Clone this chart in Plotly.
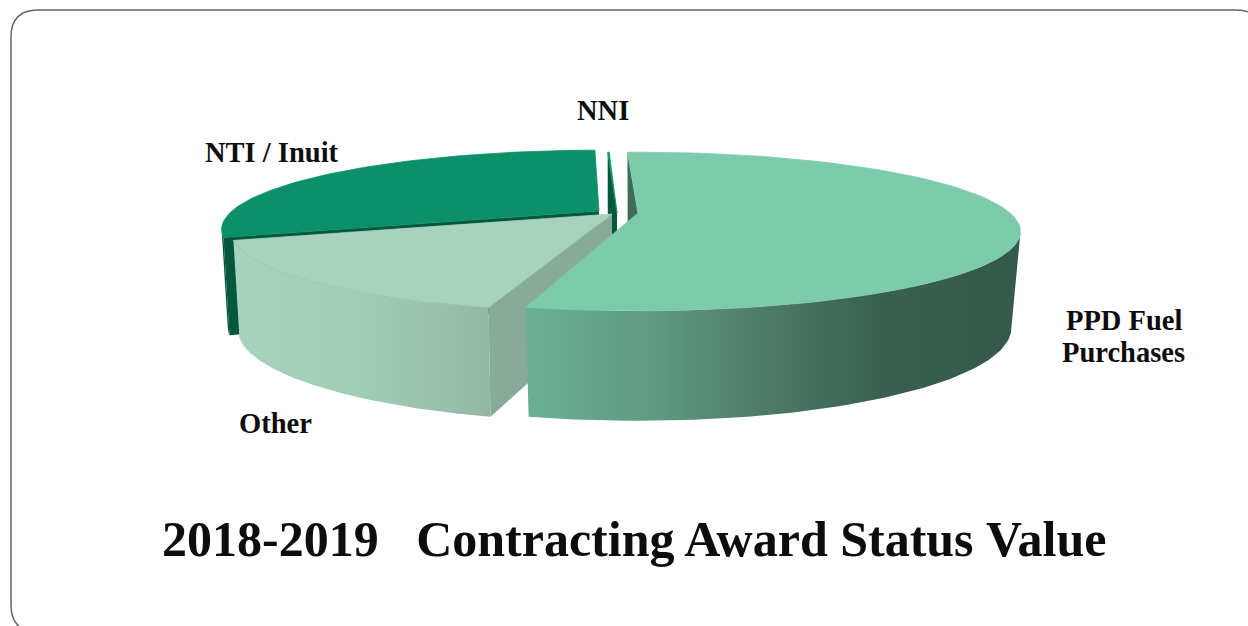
import math
import plotly.graph_objects as go

labels = ["PPD Fuel Purchases", "Other", "NTI / Inuit", "NNI"]
values = [54.3, 15.56, 30.06, 0.08]
title_text = "2018-2019\u00a0\u00a0\u00a0Contracting Award Status\u00a0Value"
label_lines = ["PPD Fuel", "Purchases", "Other", "NTI / Inuit", "NNI"]

START = -2.0
ROT = [0, 1.5, 1.5, 0.5]
VX = [638, 612, 599, 617]
VY = [213, 214, 211, 213]
RAD = [372, 370, 367, 368]
KX = [0.976, 0.984, 0.984, 0.984]
TOP = ["#7ccbab", "#a7d3bd", "#0b906a", "#0b906a"]
FACE = ["#3f6b59", "#87ab98", "#05573d", "#05573d"]
WALL = [
    [[0, "#6bb095"], [0.24, "#5f9c82"], [0.45, "#517f6b"], [0.72, "#385f4f"], [1, "#35594b"]],
    [[0, "#a7d3bd"], [0.5, "#a0cdb6"], [1, "#93b8a4"]],
    [[0, "#05573d"], [1, "#05573d"]],
    [[0, "#05573d"], [1, "#05573d"]],
]
LABEL_POS = [(1123.5, 320), (1123, 352), (275, 423), (271.5, 152), (603, 110)]

P = 0.233
B = 75
KY, D = 1.17, 93.4
SIL_A = math.degrees(math.acos(-P))
SIL_B = 360 - SIL_A


def pt(i, th, bottom=False):
    t = math.radians(th)
    s, c = math.sin(t), math.cos(t)
    w = 1 + P * c
    dx, dy = RAD[i] * s / w, -B * c / w
    if bottom:
        return VX[i] + KX[i] * dx, VY[i] + D + KY * dy
    return VX[i] + dx, VY[i] + dy


def arc(i, a, b, bottom=False, n=80):
    return [pt(i, a + (b - a) * k / n, bottom) for k in range(n + 1)]


def poly(points, color=None, gradient=None, edge=0):
    xs = [p[0] for p in points] + [points[0][0]]
    ys = [p[1] for p in points] + [points[0][1]]
    kw = dict(x=xs, y=ys, mode="lines", fill="toself",
              line=dict(width=edge, color=color if color else "rgba(0,0,0,0)"),
              hoverinfo="skip", showlegend=False)
    if gradient:
        kw["fillgradient"] = dict(type="horizontal", colorscale=gradient)
    else:
        kw["fillcolor"] = color
    return go.Scatter(**kw)


total = sum(values)
spans = []
cur = START
for i, v in enumerate(values):
    end = cur + v / total * 360
    spans.append((cur + ROT[i], end + ROT[i]))
    cur = end

fig = go.Figure()
for i in [3, 2, 1, 0]:
    a, b = spans[i]
    wa, wb = max(a, SIL_A), min(b, SIL_B)
    if wb > wa:
        fig.add_trace(poly(arc(i, wa, wb) + arc(i, wb, wa, True), gradient=WALL[i]))
    ctr_top = (VX[i], VY[i])
    ctr_bot = (VX[i], VY[i] + D)
    fig.add_trace(poly([pt(i, a), ctr_top, ctr_bot, pt(i, a, True)], color=FACE[i]))
    fig.add_trace(poly([ctr_top] + arc(i, a, b), color=TOP[i], edge=0.8))

W, H = 1248, 626
x0, y0, x1, y1, r = 11, 10, 1263, 632, 27
border = (f"M{x0+r},{y0} L{x1-r},{y0} Q{x1},{y0} {x1},{y0+r} L{x1},{y1-r} Q{x1},{y1} {x1-r},{y1} "
          f"L{x0+r},{y1} Q{x0},{y1} {x0},{y1-r} L{x0},{y0+r} Q{x0},{y0} {x0+r},{y0} Z")

annotations = [
    dict(x=p[0], y=p[1], text=f"<b>{t}</b>", showarrow=False, xanchor="center", yanchor="middle",
         font=dict(family="Liberation Serif", size=28.5, color="#0d0d0d"))
    for p, t in zip(LABEL_POS, label_lines)
]
annotations.append(dict(x=633.5, y=539, text=f"<b>{title_text}</b>", showarrow=False,
                        xanchor="center", yanchor="middle",
                        font=dict(family="Liberation Serif", size=50, color="#0d0d0d")))

fig.update_layout(
    width=W, height=H, margin=dict(l=0, r=0, t=0, b=0),
    paper_bgcolor="white", plot_bgcolor="white", showlegend=False,
    xaxis=dict(range=[0, W], visible=False, fixedrange=True),
    yaxis=dict(range=[H, 0], visible=False, fixedrange=True),
    annotations=annotations,
    shapes=[dict(type="path", path=border, line=dict(color="#666666", width=1.5), layer="below")],
)
fig.write_html("out.html", config={"displayModeBar": False},
               post_script="document.body.style.margin='0';document.body.style.overflow='hidden';")
